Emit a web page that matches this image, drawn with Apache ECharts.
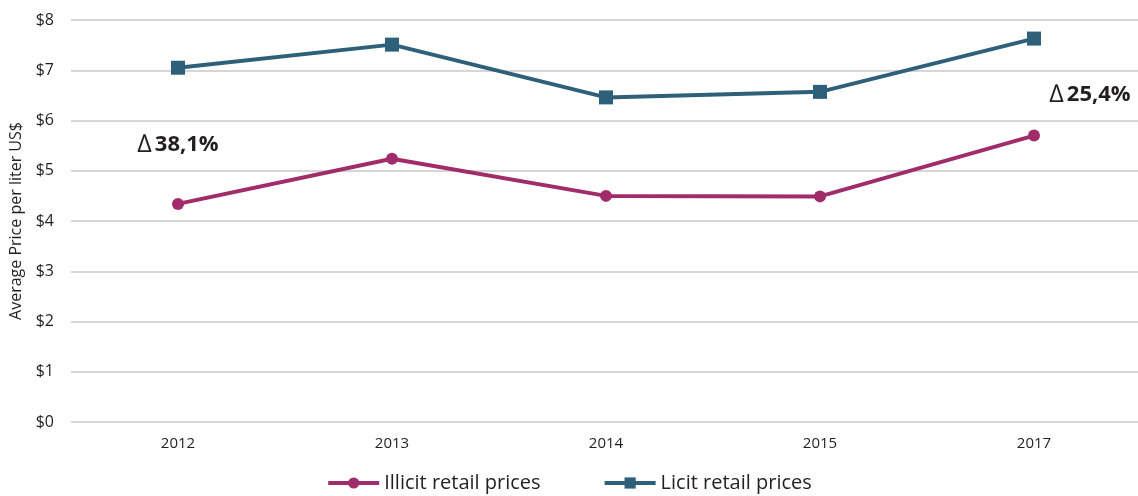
<!DOCTYPE html>
<html><head><meta charset="utf-8">
<script src="https://cdn.jsdelivr.net/npm/echarts@6/dist/echarts.min.js"></script>
<style>html,body{margin:0;padding:0;background:#fff}#c{width:1138px;height:496px}</style>
</head><body><div id="c"></div>
<script>
const years = ['2012', '2013', '2014', '2015', '2017'];
const illicit = [4.34, 5.24, 4.50, 4.49, 5.70];
const licit = [7.05, 7.51, 6.46, 6.57, 7.63];
const yTicks = [0, 1, 2, 3, 4, 5, 6, 7, 8];
const notes = [
  { year: '2012', value: 5.52, text: '38,1%' },
  { year: '2017', value: 6.51, text: '25,4%' }
];
const FONT = '"Open Sans", "Noto Sans", sans-serif';
const chart = echarts.init(document.getElementById('c'), null, { renderer: 'canvas' });
chart.setOption({
  animation: false,
  textStyle: { fontFamily: FONT },
  grid: { left: 71, right: -3, top: 20, bottom: 74, outerBoundsMode: 'none', containLabel: false },
  legend: {
    top: 468, left: 'center', itemWidth: 51, itemHeight: 14, itemGap: 62,
    lineStyle: { width: 4 },
    textStyle: { fontSize: 20, color: '#231f20', fontFamily: FONT },
    data: ['Illicit retail prices', 'Licit retail prices']
  },
  xAxis: {
    type: 'category', data: years, boundaryGap: true,
    axisLine: { show: false }, axisTick: { show: false },
    axisLabel: { fontSize: 15, color: '#231f20', margin: 14 }
  },
  yAxis: {
    type: 'value', min: yTicks[0], max: yTicks[yTicks.length - 1], interval: 1,
    name: 'Average Price per liter US$', nameLocation: 'middle', nameGap: 44, nameRotate: 90,
    nameTextStyle: { fontSize: 16, color: '#231f20' },
    axisLabel: { fontSize: 16, color: '#231f20', margin: 17, formatter: v => '$' + v },
    splitLine: { lineStyle: { color: '#d6d6d6', width: 2 } },
    axisLine: { show: false }, axisTick: { show: false }
  },
  series: [
    {
      name: 'Illicit retail prices', type: 'line', data: illicit,
      symbol: 'circle', symbolSize: 12,
      lineStyle: { color: '#a12c6a', width: 4 }, itemStyle: { color: '#a12c6a' }
    },
    {
      name: 'Licit retail prices', type: 'line', data: licit,
      symbol: 'rect', symbolSize: 14,
      lineStyle: { color: '#2e6179', width: 4 }, itemStyle: { color: '#2e6179' },
      markPoint: {
        symbol: 'rect', symbolSize: 2,
        itemStyle: { color: 'rgba(0,0,0,0)' },
        data: notes.map((n, i) => ({
          coord: [n.year, n.value],
          itemStyle: { color: 'rgba(0,0,0,0)' },
          label: {
            show: true, position: 'inside', offset: i === 1 ? [56, 0] : [0, 0],
            formatter: '{d|\u2206}{v|' + n.text + '}',
            rich: {
              d: { fontSize: 25, color: '#231f20', fontFamily: FONT, padding: [0, 3, 0, 0] },
              v: { fontSize: 22, fontWeight: 'bold', color: '#231f20', fontFamily: FONT }
            }
          }
        }))
      }
    }
  ]
});
</script></body></html>
